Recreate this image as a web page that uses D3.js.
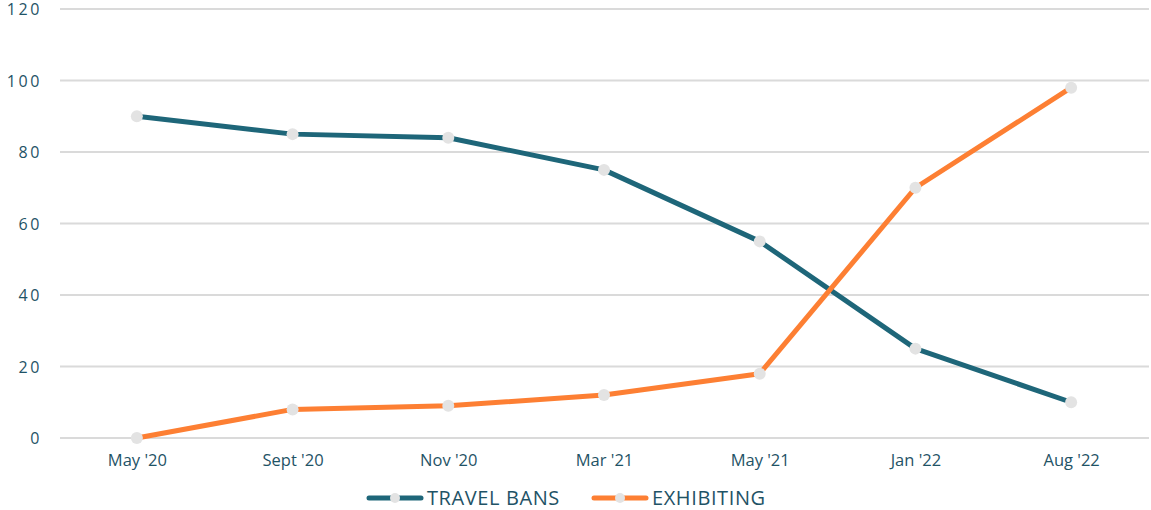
<!DOCTYPE html>
<html>
<head>
<meta charset="utf-8">
<script src="https://cdn.jsdelivr.net/npm/d3@7"></script>
<style>
  html, body { margin: 0; padding: 0; background: #fff; }
  svg { display: block; font-family: "Open Sans", "Noto Sans", sans-serif; }
</style>
</head>
<body>
<svg id="chart" width="1151" height="510"></svg>
<script>
// Survey dates and the share (%) reporting each condition
const categories = ["May '20", "Sept '20", "Nov '20", "Mar '21", "May '21", "Jan '22", "Aug '22"];
const travelBans = [90, 85, 84, 75, 55, 25, 10];
const exhibiting = [0, 8, 9, 12, 18, 70, 98];
const yTicks = [0, 20, 40, 60, 80, 100, 120];
const seriesNames = ["TRAVEL BANS", "EXHIBITING"];
const seriesColors = ["#1e6679", "#fd7f33"];

const svg = d3.select("#chart");
const margin = { top: 9, right: 2, bottom: 72, left: 59 };
const W = 1151, H = 510;

const x = d3.scalePoint().domain(categories).range([margin.left, W - margin.right]).padding(0.5);
const y = d3.scaleLinear().domain([0, 120]).range([H - margin.bottom, margin.top]);

const textColor = "#1f5366";

// horizontal grid
svg.append("g").selectAll("line").data(yTicks).join("line")
  .attr("x1", margin.left + 1).attr("x2", W - margin.right)
  .attr("y1", d => y(d)).attr("y2", d => y(d))
  .attr("stroke", "#dadada").attr("stroke-width", 2);

// y-axis labels
const yAxis = d3.axisLeft(y).tickValues(yTicks).tickSize(0).tickPadding(0);
const gy = svg.append("g").attr("transform", `translate(${margin.left - 17},0)`).call(yAxis);
gy.select(".domain").remove();
gy.selectAll("text")
  .attr("fill", textColor).attr("font-size", 16).attr("letter-spacing", "2.6px")
  .attr("dy", "0.36em")
  .attr("font-family", "'Open Sans', sans-serif");

// x-axis labels
const xAxis = d3.axisBottom(x).tickSize(0).tickPadding(0);
const gx = svg.append("g").attr("transform", `translate(0,${H - margin.bottom + 16})`).call(xAxis);
gx.select(".domain").remove();
gx.selectAll("text")
  .attr("fill", textColor).attr("font-size", 16.5)
  .attr("font-family", "'Open Sans', sans-serif");

// lines and markers
const series = [travelBans, exhibiting];
const line = d3.line().x((d, i) => x(categories[i])).y(d => y(d));

series.forEach((vals, s) => {
  svg.append("path").datum(vals)
    .attr("d", line).attr("fill", "none")
    .attr("stroke", seriesColors[s]).attr("stroke-width", 5)
    .attr("stroke-linejoin", "round").attr("stroke-linecap", "round");
});
series.forEach((vals, s) => {
  svg.append("g").selectAll("circle").data(vals).join("circle")
    .attr("cx", (d, i) => x(categories[i])).attr("cy", d => y(d))
    .attr("r", 6).attr("fill", "#e3e3e3");
});

// legend
const legendY = 498;
const legendItems = [
  { x: 367, textX: 427 },
  { x: 592, textX: 652 }
];
legendItems.forEach((it, s) => {
  const g = svg.append("g");
  g.append("line").attr("x1", it.x + 2).attr("x2", it.x + 54)
    .attr("y1", legendY).attr("y2", legendY)
    .attr("stroke", seriesColors[s]).attr("stroke-width", 5).attr("stroke-linecap", "round");
  g.append("circle").attr("cx", it.x + 28).attr("cy", legendY).attr("r", 5).attr("fill", "#e3e3e3");
  g.append("text").attr("x", it.textX).attr("y", legendY).attr("dy", "0.36em")
    .attr("fill", textColor).attr("font-size", 20).attr("letter-spacing", "0.6px")
    .attr("font-family", "'Open Sans', sans-serif")
    .text(seriesNames[s]);
});
</script>
</body>
</html>
